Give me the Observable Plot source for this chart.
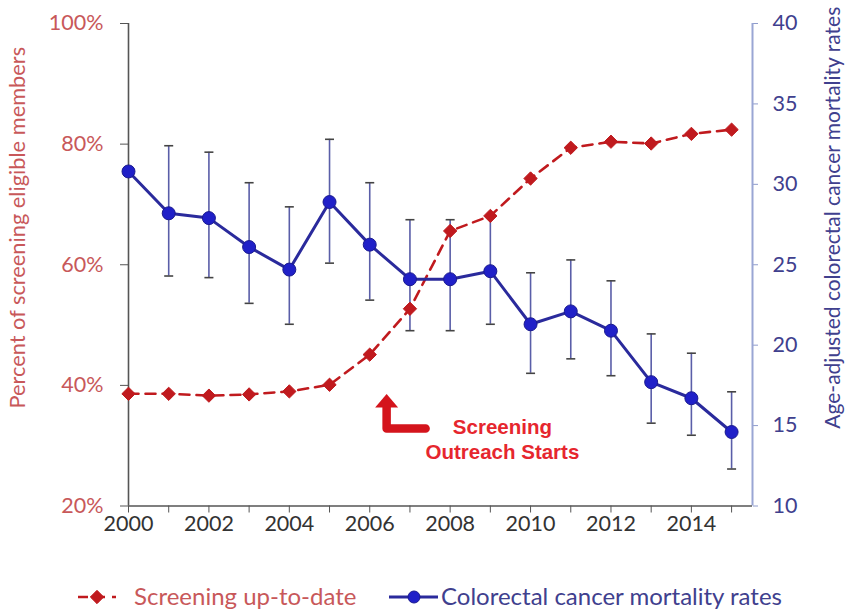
<!DOCTYPE html>
<html><head><meta charset="utf-8">
<script src="https://cdn.jsdelivr.net/npm/d3@7"></script>
<script src="https://cdn.jsdelivr.net/npm/@observablehq/plot@0.6"></script>
<style>
body{margin:0;background:#fff;}
#wrap{position:relative;width:848px;height:612px;font-family:Lato,sans-serif;background:#fff;}
#legend{position:absolute;left:0;top:582px;width:848px;height:30px;}
</style></head><body><div id="wrap"><div id="chart"></div><div id="legend"></div></div>
<script>
const years = [2000,2001,2002,2003,2004,2005,2006,2007,2008,2009,2010,2011,2012,2013,2014,2015];
const screening = [38.6,38.6,38.3,38.5,39.0,40.1,45.1,52.7,65.6,68.1,74.3,79.4,80.4,80.1,81.7,82.4];
const mortality = [30.8,28.2,27.9,26.1,24.7,28.9,26.25,24.1,24.1,24.6,21.3,22.1,20.9,17.7,16.7,14.6];
const mortLow  = [null,24.3,24.2,22.6,21.3,25.1,22.8,20.9,20.9,21.3,18.25,19.15,18.1,15.15,14.4,12.3];
const mortHigh = [null,32.4,32.0,30.1,28.6,32.8,30.1,27.8,27.8,28.1,24.5,25.3,24.0,20.7,19.5,17.1];
const leftTicks = [20,40,60,80,100];
const rightTicks = [10,15,20,25,30,35,40];
const xTickLabels = [2000,2002,2004,2006,2008,2010,2012,2014];
const seriesNames = ["Screening up-to-date","Colorectal cancer mortality rates"];
const leftTitle = "Percent of screening eligible members";
const rightTitle = "Age-adjusted colorectal cancer mortality rates";
const annotationLines = ["Screening","Outreach Starts"];
const annotationY = [33.0, 28.9];
const annotationX = 2009.3;
const arrowPath = [{x:2006.42,y:36.6},{x:2006.42,y:32.84},{x:2007.39,y:32.84}];
const arrowHead = [{x:2006.42,y:37.4}];
const xMax = 2015.52;

const RED = "#c01a1e", REDTXT = "#c8585a", BLUE = "#2020c8", BLUELINE = "#2a2a9c", BLUETXT = "#40408e";
const toLeft = v => 20 + (v - 10) * 80 / 30;
const fromLeft = p => Math.round(10 + (p - 20) * 30 / 80);

const scr = years.map((x,i)=>({x, y: screening[i]}));
const mort = years.map((x,i)=>({x, y: toLeft(mortality[i]), lo: mortLow[i]==null?null:toLeft(mortLow[i]), hi: mortHigh[i]==null?null:toLeft(mortHigh[i])}));
const errs = mort.filter(d=>d.lo!=null);
const capSymbol = {draw(ctx){ctx.moveTo(-4.5,0);ctx.lineTo(4.5,0);}};
const headSymbol = {draw(ctx){ctx.moveTo(0,-7);ctx.lineTo(11.5,6.5);ctx.lineTo(-11.5,6.5);ctx.closePath();}};

const plot = Plot.plot({
  width: 848, height: 560,
  marginLeft: 128, marginRight: 96, marginTop: 23, marginBottom: 54.5,
  x: {domain: [2000, xMax]},
  y: {domain: [20, 100]},
  style: {fontFamily: "Lato, sans-serif", fontSize: "21px", background: "white", overflow: "visible"},
  marks: [
    Plot.axisY({anchor: "left", ticks: leftTicks, tickFormat: d => d + "%", tickSize: 8, tickPadding: 17, stroke: "#555", fill: REDTXT, fontSize: 21.5, label: null}),
    Plot.axisY({anchor: "right", ticks: rightTicks.map(toLeft), tickFormat: d => String(fromLeft(d)), tickSize: 5, tickPadding: 15, stroke: "#8f9ccc", fill: BLUETXT, fontSize: 21.5, label: null}),
    Plot.axisX({ticks: years, tickFormat: d => xTickLabels.includes(d) ? String(d) : "", tickSize: 7, tickPadding: 3, stroke: "#555", fill: "#333", fontSize: 21.5, label: null}),
    Plot.ruleX([xMax], {stroke: "#9aa6d4", strokeWidth: 2}),
    Plot.ruleX([2000], {stroke: "#555", strokeWidth: 1.6}),
    Plot.ruleY([20], {stroke: "#555", strokeWidth: 1.6}),
    Plot.ruleX(errs, {x: "x", y1: "lo", y2: "hi", stroke: "#5a5ea8", strokeWidth: 1.6}),
    Plot.dot(errs, {x: "x", y: "lo", symbol: capSymbol, stroke: "#444", strokeWidth: 1.6, r: 4}),
    Plot.dot(errs, {x: "x", y: "hi", symbol: capSymbol, stroke: "#444", strokeWidth: 1.6, r: 4}),
    Plot.line(scr, {x: "x", y: "y", stroke: RED, strokeWidth: 2.6, strokeDasharray: "10,7"}),
    Plot.dot(scr, {x: "x", y: "y", symbol: "diamond2", fill: RED, stroke: RED, strokeWidth: 1, r: 6}),
    Plot.line(mort, {x: "x", y: "y", stroke: BLUELINE, strokeWidth: 3}),
    Plot.dot(mort, {x: "x", y: "y", fill: BLUE, stroke: "#1a1a90", strokeWidth: 1, r: 6.5}),
    Plot.line(arrowPath, {x: "x", y: "y", stroke: "#d4141c", strokeWidth: 8.5, strokeLinejoin: "round"}),
    Plot.dot(arrowHead, {x: "x", y: "y", symbol: headSymbol, fill: "#d4141c", r: 8}),
    Plot.text(annotationLines, {x: annotationX, y: (d,i) => annotationY[i], text: d => d, fill: "#e6262e", fontWeight: "bold", fontFamily: "Liberation Sans, Arial, sans-serif", fontSize: 20.5}),
    Plot.text([leftTitle], {frameAnchor: "left", dx: -110, dy: -37, rotate: -90, textAnchor: "middle", fill: REDTXT, fontSize: 21.8}),
    Plot.text([rightTitle], {frameAnchor: "right", dx: 81, dy: -47, rotate: -90, textAnchor: "middle", fill: BLUETXT, fontSize: 21})
  ]
});
document.getElementById("chart").appendChild(plot);

// legend
const lg = d3.select("#legend").append("svg").attr("width", 848).attr("height", 30).style("font-family", "Lato, sans-serif");
const cy = 15;
const g1 = lg.append("g");
g1.append("line").attr("x1", 78).attr("x2", 116).attr("y1", cy).attr("y2", cy).attr("stroke", RED).attr("stroke-width", 2.6).attr("stroke-dasharray", "10,7");
g1.append("path").attr("d", d3.symbol(d3.symbolDiamond2, 6*6*Math.PI)()).attr("transform", `translate(97,${cy})`).attr("fill", RED).attr("stroke", RED);
g1.append("text").attr("x", 134).attr("y", cy).attr("dy", "0.35em").attr("fill", REDTXT).attr("font-size", 24).text(seriesNames[0]);
const g2 = lg.append("g");
g2.append("line").attr("x1", 389).attr("x2", 438).attr("y1", cy).attr("y2", cy).attr("stroke", BLUELINE).attr("stroke-width", 3);
g2.append("circle").attr("cx", 414).attr("cy", cy).attr("r", 6).attr("fill", BLUE).attr("stroke", "#1a1a90");
g2.append("text").attr("x", 441).attr("y", cy).attr("dy", "0.35em").attr("fill", BLUETXT).attr("font-size", 24).text(seriesNames[1]);
</script></body></html>
